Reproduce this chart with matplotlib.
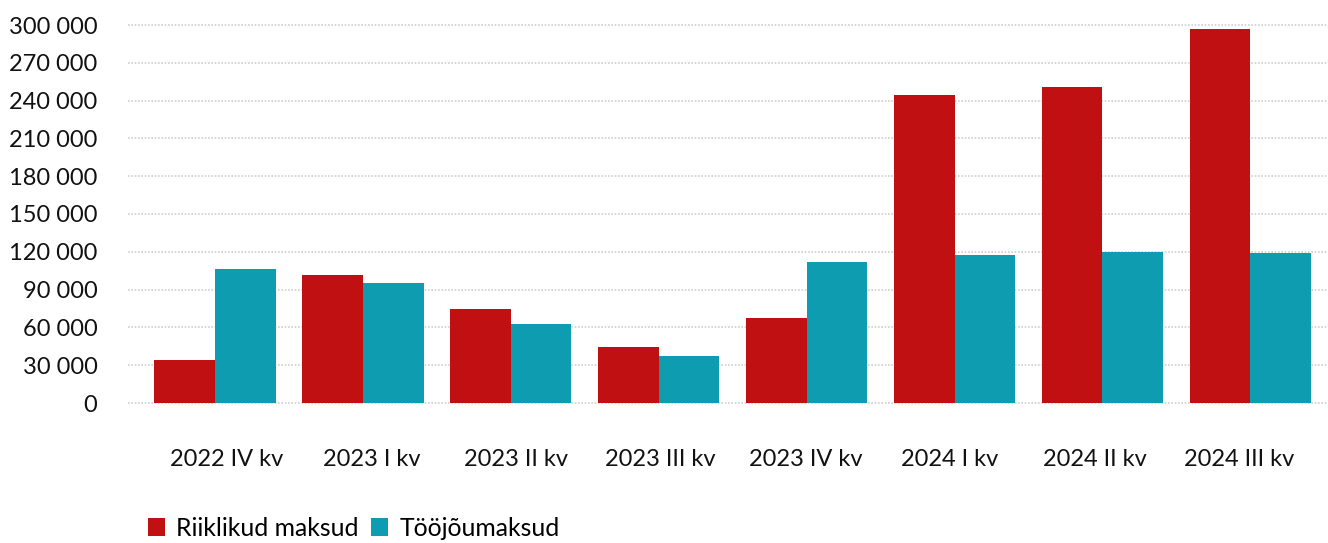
import numpy as np
from matplotlib import pyplot as plt
from matplotlib.ticker import FuncFormatter

# quarterly tax amounts
quarters = ['2022 IV kv', '2023 I kv', '2023 II kv', '2023 III kv',
            '2023 IV kv', '2024 I kv', '2024 II kv', '2024 III kv']
riiklikud = [34100, 101600, 74600, 44400, 67500, 244400, 250800, 296800]
toojou = [106300, 95000, 62700, 37300, 112000, 117500, 119800, 119000]

red = '#C11012'
teal = '#0E9CB1'

plt.rcParams['font.family'] = ['Lato', 'DejaVu Sans']

fig = plt.figure(figsize=(13.28, 5.43), dpi=100)
ax = fig.add_axes([128 / 1328, 140 / 543, 1 - 128 / 1328, (403 - 25) / 543])

x = np.arange(len(quarters))
w = 0.41
ax.bar(x - w / 2, riiklikud, w, color=red, label='Riiklikud maksud', zorder=2)
ax.bar(x + w / 2, toojou, w, color=teal, label='Tööjõumaksud', zorder=2)

ax.set_xlim(-0.588, 7.525)
ax.set_ylim(0, 300000)
ax.set_yticks(np.arange(0, 300001, 30000))
ax.yaxis.set_major_formatter(FuncFormatter(lambda v, p: f'{int(v):,}'.replace(',', ' ')))
# category labels sit on a slightly tighter spacing than the bars
ax.set_xticks(x * 0.978 + 0.08)
ax.set_xticklabels(quarters)

ax.grid(axis='y', color='#D0D0D0', linestyle=(0, (1, 1)), linewidth=1.2, zorder=0)
for gl in ax.get_ygridlines():
    gl.set_clip_on(False)
for s in ax.spines.values():
    s.set_visible(False)
ax.tick_params(axis='y', length=0, pad=22, labelsize=17, labelcolor='#111111')
ax.tick_params(axis='x', length=0, pad=33, labelsize=17, labelcolor='#111111')

fig.legend(loc='lower left', bbox_to_anchor=(138 / 1328, -0.012), ncol=2, frameon=False,
           fontsize=17.8, handlelength=0.7, handleheight=0.7, handletextpad=0.45,
           columnspacing=0.5, borderaxespad=0)

fig.savefig('out.png', dpi=100)
